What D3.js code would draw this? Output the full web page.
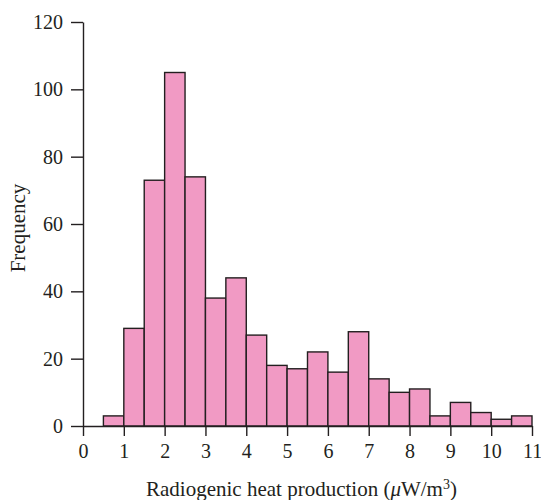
<!DOCTYPE html>
<html>
<head>
<meta charset="utf-8">
<script src="https://cdn.jsdelivr.net/npm/d3@7"></script>
<style>
  body { margin: 0; background: #fff; }
  svg text { font-family: "Liberation Serif", "DejaVu Serif", serif; fill: #231f20; }
</style>
</head>
<body>
<svg id="chart" width="541" height="500"></svg>
<script>
// bin edges (lower edge of each bin, width 0.5) and counts
var binStarts = [0.5, 1, 1.5, 2, 2.5, 3, 3.5, 4, 4.5, 5, 5.5, 6, 6.5, 7, 7.5, 8, 8.5, 9, 9.5, 10, 10.5];
var counts = [3, 29, 73, 105, 74, 38, 44, 27, 18, 17, 22, 16, 28, 14, 10, 11, 3, 7, 4, 2, 3];
var binWidth = 0.5;
var xTicks = [0, 1, 2, 3, 4, 5, 6, 7, 8, 9, 10, 11];
var yTicks = [0, 20, 40, 60, 80, 100, 120];

var margin = {top: 22, right: 9, bottom: 74, left: 83},
    width = 541 - margin.left - margin.right,
    height = 500 - margin.top - margin.bottom;

var svg = d3.select("#chart")
  .append("g")
  .attr("transform", "translate(" + margin.left + "," + margin.top + ")");

var x = d3.scaleLinear().domain([0, 11]).range([0, width]);
var y = d3.scaleLinear().domain([0, 120]).range([height, 0]);

// bars
svg.selectAll(".bar")
  .data(counts)
  .enter().append("rect")
  .attr("class", "bar")
  .attr("x", function(d, i) { return x(binStarts[i]); })
  .attr("y", function(d) { return y(d); })
  .attr("width", function(d, i) { return x(binStarts[i] + binWidth) - x(binStarts[i]); })
  .attr("height", function(d) { return y(0) - y(d); })
  .attr("fill", "#f19ac4")
  .attr("stroke", "#231f20")
  .attr("stroke-width", 1.4);

// axes
var xAxis = svg.append("g")
  .attr("transform", "translate(0," + height + ")")
  .call(d3.axisBottom(x).tickValues(xTicks).tickFormat(d3.format("d")).tickSize(10).tickSizeOuter(0).tickPadding(8));

var yAxis = svg.append("g")
  .call(d3.axisLeft(y).tickValues(yTicks).tickSize(12).tickSizeOuter(0).tickPadding(8));

[xAxis, yAxis].forEach(function(a) {
  a.select(".domain").attr("stroke", "#231f20").attr("stroke-width", 1.4);
  a.selectAll(".tick line").attr("stroke", "#231f20").attr("stroke-width", 1.4);
  a.selectAll(".tick text")
    .attr("font-family", "Liberation Serif, DejaVu Serif, serif")
    .attr("font-size", 20)
    .attr("fill", "#231f20");
});

// axis titles
var xt = svg.append("text")
  .attr("x", width / 2 - 6)
  .attr("y", height + 70)
  .attr("text-anchor", "middle")
  .attr("font-size", 21);
xt.append("tspan").text("Radiogenic heat production (");
xt.append("tspan").attr("font-style", "italic").text("\u03bc");
xt.append("tspan").text("W/m");
xt.append("tspan").attr("font-size", 14).attr("baseline-shift", "super").text("3");
xt.append("tspan").text(")");

svg.append("text")
  .attr("transform", "translate(" + (-58) + "," + (height / 2 + 4) + ") rotate(-90)")
  .attr("text-anchor", "middle")
  .attr("font-size", 21)
  .text("Frequency");
</script>
</body>
</html>
